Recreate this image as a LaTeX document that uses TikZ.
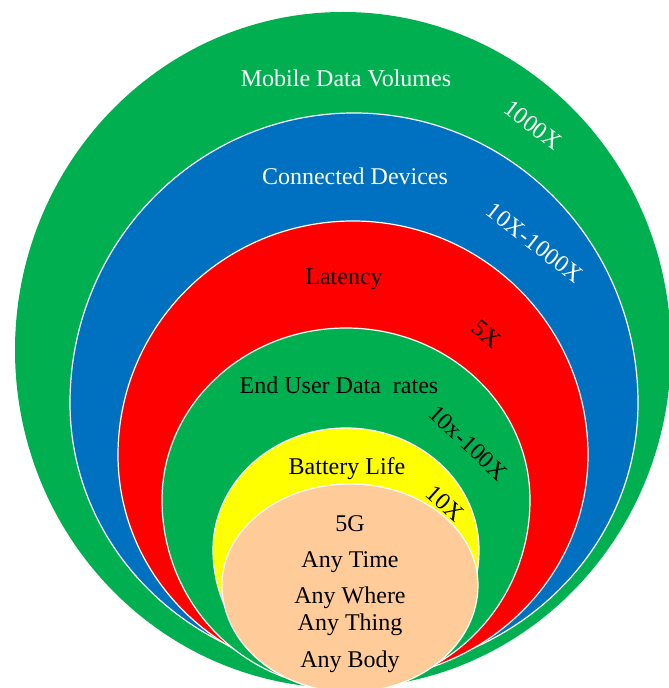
\documentclass[tikz,border=0pt]{standalone}
\usepackage{fontspec}
\setmainfont{Liberation Serif}
\definecolor{ogreen}{HTML}{00B050}
\definecolor{oblue}{HTML}{0070C0}
\definecolor{ored}{HTML}{FF0000}
\definecolor{oyellow}{HTML}{FFFF00}
\definecolor{opeach}{HTML}{FFCC99}
\tikzset{
  ring/.style={draw=white, line width=1.2pt},
  lbl/.style={font=\fontsize{24}{28}\selectfont, inner sep=0pt},
  wlbl/.style={lbl, text=white},
  blbl/.style={lbl, text=black},
}
\begin{document}
\begin{tikzpicture}[x=1pt,y=1pt]
\useasboundingbox (0,0) rectangle (669,688);
% outer green
\path[fill=ogreen] (15,338) arc[start angle=180,end angle=0,x radius=328,y radius=338]
  arc[start angle=0,end angle=-180,x radius=328,y radius=338] -- cycle;
% blue
\path[ring,fill=oblue] (70,285) arc[start angle=180,end angle=0,x radius=284,y radius=290]
  arc[start angle=0,end angle=-180,x radius=284,y radius=270] -- cycle;
% red
\path[ring,fill=ored] (118,233) arc[start angle=180,end angle=0,x radius=235,y radius=234]
  arc[start angle=0,end angle=-180,x radius=235,y radius=225] -- cycle;
% inner green
\path[ring,fill=ogreen] (162,188) arc[start angle=180,end angle=0,x radius=184,y radius=172]
  arc[start angle=0,end angle=-180,x radius=184,y radius=188] -- cycle;
% yellow
\path[ring,fill=oyellow] (213,138) arc[start angle=180,end angle=0,x radius=133,y radius=122]
  arc[start angle=0,end angle=-180,x radius=133,y radius=136] -- cycle;
% peach
\path[ring,fill=opeach] (222,103) arc[start angle=180,end angle=0,x radius=128,y radius=101]
  arc[start angle=0,end angle=-180,x radius=128,y radius=107] -- cycle;

\node[wlbl] (mdv) at (346,610) {Mobile Data Volumes};
\node[wlbl,rotate=-37] (k1000) at (533,563) {1000X};
\node[wlbl] (cd) at (355,512) {Connected Devices};
\node[wlbl,rotate=-38] (k10to1000) at (535,445) {10X-1000X};
\node[blbl] (lat) at (344,409) {Latency};
\node[blbl,rotate=-40] (k5) at (487,354) {5X};
\node[blbl] (eud) at (339,303) {End User Data\ \ rates};
\node[blbl,rotate=-43] (k10to100) at (468,245) {10x-100X};
\node[blbl] (bl) at (347,219) {Battery Life};
\node[blbl,rotate=-42] (k10) at (445,185) {10X};
\node[blbl] (g5) at (350,164) {5G};
\node[blbl] (at) at (350,126) {Any Time};
\node[blbl] (aw) at (350,90) {Any Where};
\node[blbl] (ath) at (350,63) {Any Thing};
\node[blbl] (ab) at (350,26) {Any Body};
\end{tikzpicture}
\end{document}
